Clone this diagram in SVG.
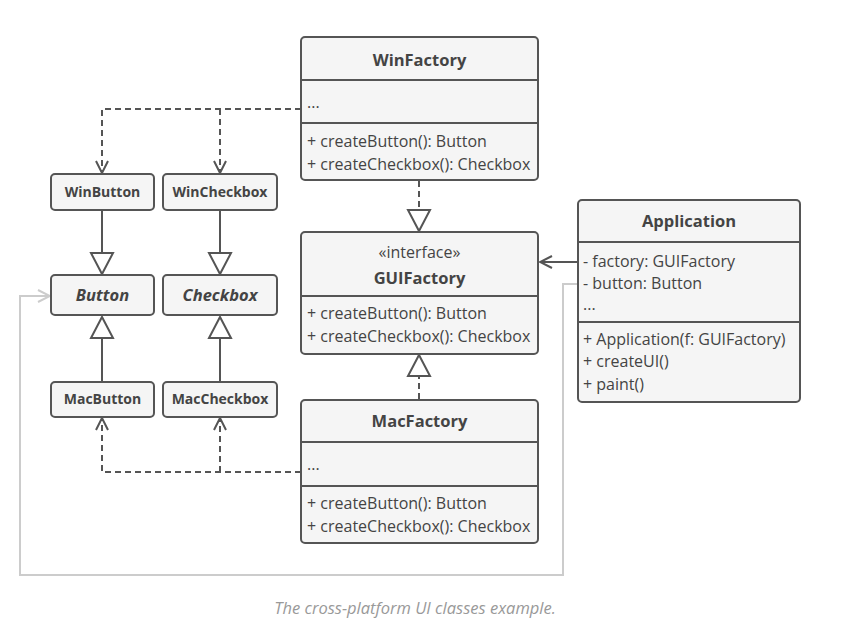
<svg xmlns="http://www.w3.org/2000/svg" width="846" height="628" viewBox="0 0 846 628">
<defs>
<style>
.box{fill:#f5f5f5;stroke:#555;stroke-width:2}
.sep{stroke:#555;stroke-width:2}
.t{font-family:"Open Sans","Noto Sans","DejaVu Sans",sans-serif;fill:#444;font-size:16px}
.title{font-weight:bold;font-size:16.5px;text-anchor:middle}
.small{font-weight:bold;font-size:14px;text-anchor:middle}
.abs{font-weight:bold;font-style:italic;font-size:16.5px;text-anchor:middle}
.ln{fill:none;stroke:#555;stroke-width:2}
.dash{fill:none;stroke:#555;stroke-width:2;stroke-dasharray:6 4}
.grey{fill:none;stroke:#ccc;stroke-width:2}
.tri{fill:#fff;stroke:#555;stroke-width:2;stroke-linejoin:miter}
.cap{font-family:"Open Sans","Noto Sans",sans-serif;font-style:italic;font-size:16.5px;fill:#999;text-anchor:middle}
</style>
<marker id="open" viewBox="0 0 14 14" refX="13" refY="7" markerWidth="14" markerHeight="14" markerUnits="userSpaceOnUse" orient="auto">
<path d="M1,1 L13,7 L1,13" fill="none" stroke="#555" stroke-width="2"/>
</marker>
<marker id="openGrey" viewBox="0 0 14 14" refX="13" refY="7" markerWidth="14" markerHeight="14" markerUnits="userSpaceOnUse" orient="auto">
<path d="M1,1 L13,7 L1,13" fill="none" stroke="#ccc" stroke-width="2"/>
</marker>
</defs>
<rect width="846" height="628" fill="#fff"/>

<g id="connectors">
<path class="dash" d="M301,109 H102 V173" marker-end="url(#open)"/>
<path class="dash" d="M220,109 V173" marker-end="url(#open)"/>
<path class="dash" d="M301,472 H102 V418" marker-end="url(#open)"/>
<path class="dash" d="M220,472 V418" marker-end="url(#open)"/>
<path class="ln" d="M102,210 V253"/>
<path class="tri" d="M91,253 H113 L102,274 Z"/>
<path class="ln" d="M220,210 V253"/>
<path class="tri" d="M209,253 H231 L220,274 Z"/>
<path class="ln" d="M102,382 V338"/>
<path class="tri" d="M91,338 H113 L102,317 Z"/>
<path class="ln" d="M220,382 V338"/>
<path class="tri" d="M209,338 H231 L220,317 Z"/>
<path class="dash" d="M419,181 V210"/>
<path class="tri" d="M408,210 H430 L419,231 Z"/>
<path class="dash" d="M419,399 V376"/>
<path class="tri" d="M408,376 H430 L419,355 Z"/>
<path class="ln" d="M578,262 H540" marker-end="url(#open)"/>
<path class="grey" d="M578,284 H563 V575 H20 V296 H50" marker-end="url(#openGrey)"/>
</g>

<g id="WinFactory">
<rect class="box" x="301" y="37" width="237" height="143" rx="4"/>
<line class="sep" x1="301" y1="80" x2="538" y2="80"/>
<line class="sep" x1="301" y1="123" x2="538" y2="123"/>
<text class="t title" x="419.5" y="66">WinFactory</text>
<text class="t" x="307" y="108">...</text>
<text class="t" x="307" y="147">+ createButton(): Button</text>
<text class="t" x="307" y="170">+ createCheckbox(): Checkbox</text>
</g>

<g id="GUIFactory">
<rect class="box" x="301" y="232" width="237" height="122" rx="4"/>
<line class="sep" x1="301" y1="296" x2="538" y2="296"/>
<text class="t" x="419.5" y="258" text-anchor="middle">«interface»</text>
<text class="t title" x="419.5" y="284">GUIFactory</text>
<text class="t" x="307" y="319">+ createButton(): Button</text>
<text class="t" x="307" y="342">+ createCheckbox(): Checkbox</text>
</g>

<g id="MacFactory">
<rect class="box" x="301" y="400" width="237" height="143" rx="4"/>
<line class="sep" x1="301" y1="442" x2="538" y2="442"/>
<line class="sep" x1="301" y1="486" x2="538" y2="486"/>
<text class="t title" x="419.5" y="427">MacFactory</text>
<text class="t" x="307" y="470">...</text>
<text class="t" x="307" y="509">+ createButton(): Button</text>
<text class="t" x="307" y="532">+ createCheckbox(): Checkbox</text>
</g>

<g id="Application">
<rect class="box" x="578" y="200" width="222" height="202" rx="4"/>
<line class="sep" x1="578" y1="242" x2="800" y2="242"/>
<line class="sep" x1="578" y1="322" x2="800" y2="322"/>
<text class="t title" x="689" y="227">Application</text>
<text class="t" x="583" y="267">- factory: GUIFactory</text>
<text class="t" x="583" y="289">- button: Button</text>
<text class="t" x="583" y="310">...</text>
<text class="t" x="583" y="345">+ Application(f: GUIFactory)</text>
<text class="t" x="583" y="367">+ createUI()</text>
<text class="t" x="583" y="390">+ paint()</text>
</g>

<g id="WinButton">
<rect class="box" x="51" y="174" width="103" height="36" rx="4"/>
<text class="t small" x="102.5" y="197">WinButton</text>
</g>
<g id="WinCheckbox">
<rect class="box" x="163" y="174" width="114" height="36" rx="4"/>
<text class="t small" x="220" y="197">WinCheckbox</text>
</g>
<g id="Button">
<rect class="box" x="51" y="275" width="103" height="40" rx="4"/>
<text class="t abs" x="102.5" y="301">Button</text>
</g>
<g id="Checkbox">
<rect class="box" x="163" y="275" width="114" height="40" rx="4"/>
<text class="t abs" x="220" y="301">Checkbox</text>
</g>
<g id="MacButton">
<rect class="box" x="51" y="382" width="103" height="35" rx="4"/>
<text class="t small" x="102.5" y="404">MacButton</text>
</g>
<g id="MacCheckbox">
<rect class="box" x="163" y="382" width="114" height="35" rx="4"/>
<text class="t small" x="220" y="404">MacCheckbox</text>
</g>

<text class="cap" x="415" y="614">The cross-platform UI classes example.</text>
</svg>
